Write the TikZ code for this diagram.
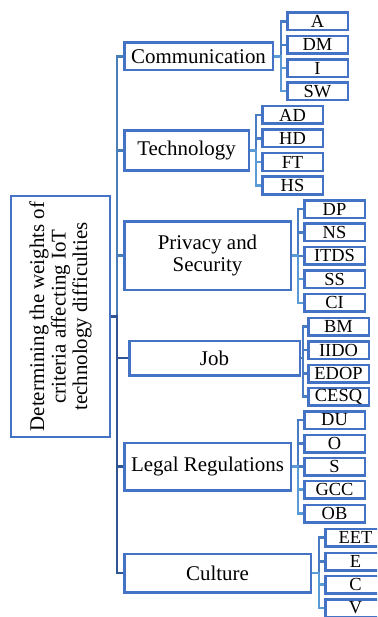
\documentclass[tikz,border=0pt]{standalone}
\usepackage{fontspec}
\setmainfont{Liberation Serif}
\definecolor{boxblue}{HTML}{4472C4}
\definecolor{trunkup}{HTML}{4A7EB8}
\definecolor{trunkdown}{HTML}{2F5597}
\definecolor{linkdark}{HTML}{4A7CC4}
\definecolor{linklight}{HTML}{5B9BD5}
\begin{document}
\begin{tikzpicture}[x=1bp, y=-1bp]
        \tikzstyle{box}  = [shape=rectangle, draw=boxblue, line width=2.5bp, fill=white,
                            inner sep=0pt, align=center, font=\fontsize{21}{22}\selectfont]
        \tikzstyle{leaf} = [box, minimum width=60.5bp, minimum height=17.5bp,
                            font=\fontsize{18.5}{19}\selectfont]
        \tikzstyle{up}   = [draw=trunkup, line width=2.2bp]
        \tikzstyle{down} = [draw=trunkdown, line width=2.7bp]
        \tikzstyle{ldark}  = [draw=linkdark, line width=2.2bp]
        \tikzstyle{llight} = [draw=linklight, line width=2.2bp]

        \useasboundingbox (0, 0) rectangle (377, 617);
        \clip (0, 0) rectangle (377, 617);

        % goal
        \node[box, minimum width=98.5bp, minimum height=240.5bp] (root) at (60.5, 316.5) {};
        \node[rotate=90, align=center, inner sep=0pt, font=\fontsize{21}{21.5}\selectfont]
            (goal) at (root.center) {Determining the weights of\\criteria affecting IoT\\technology difficulties};

        % criteria
        \node[box, minimum width=148.5bp, minimum height=27.5bp] (comm)  at (198.5,  56.5) {Communication};
        \node[box, minimum width=124.5bp, minimum height=39.5bp] (tech)  at (186.5, 150.5) {Technology};
        \node[box, minimum width=166.5bp, minimum height=68.5bp] (priv)  at (207.5, 255.5) {Privacy and\\Security};
        \node[box, minimum width=170.5bp, minimum height=34.5bp] (job)   at (214.5, 358.0) {Job};
        \node[box, minimum width=166.5bp, minimum height=47.5bp] (legal) at (207.5, 466.5) {Legal Regulations};
        \node[box, minimum width=186.5bp, minimum height=38.5bp] (cult)  at (217.5, 573.0) {Culture};

        \draw[up]   (root.east) -- ++(6, 0) |- (comm.west);
        \draw[up]   (root.east) -- ++(6, 0) |- (tech.west);
        \draw[up]   (root.east) -- ++(6, 0) |- (priv.west);
        \draw[down] (root.east) -- ++(6, 0) |- (job.west);
        \draw[down] (root.east) -- ++(6, 0) |- (legal.west);
        \draw[down] (root.east) -- ++(6, 0) |- (cult.west);

        % sub-criteria
        \node[leaf] (a)    at (317.5,  21.5) {A};
        \node[leaf] (dm)   at (317.5,  44.8) {DM};
        \node[leaf] (i)    at (317.5,  68.1) {I};
        \node[leaf] (sw)   at (317.5,  91.4) {SW};

            \draw[ldark]  (a.west)  -- ++(-5, 0) |- (comm.east);
            \draw[ldark]  (dm.west) -- ++(-5, 0) |- (comm.east);
            \draw[llight] (i.west)  -- ++(-5, 0) |- (comm.east);
            \draw[llight] (sw.west) -- ++(-5, 0) |- (comm.east);

        \node[leaf] (ad)   at (292.5, 115.0) {AD};
        \node[leaf] (hd)   at (292.5, 138.5) {HD};
        \node[leaf] (ft)   at (292.5, 162.0) {FT};
        \node[leaf] (hs)   at (292.5, 185.5) {HS};

            \draw[ldark]  (ad.west) -- ++(-5, 0) |- (tech.east);
            \draw[ldark]  (hd.west) -- ++(-5, 0) |- (tech.east);
            \draw[llight] (ft.west) -- ++(-5, 0) |- (tech.east);
            \draw[llight] (hs.west) -- ++(-5, 0) |- (tech.east);

        \node[leaf] (dp)   at (334.5, 209.0) {DP};
        \node[leaf] (ns)   at (334.5, 232.4) {NS};
        \node[leaf] (itds) at (334.5, 255.8) {ITDS};
        \node[leaf] (ss)   at (334.5, 279.2) {SS};
        \node[leaf] (ci)   at (334.5, 302.6) {CI};

            \draw[ldark]  (dp.west)   -- ++(-5, 0) |- (priv.east);
            \draw[ldark]  (ns.west)   -- ++(-5, 0) |- (priv.east);
            \draw[ldark]  (itds.west) -- ++(-5, 0) |- (priv.east);
            \draw[llight] (ss.west)   -- ++(-5, 0) |- (priv.east);
            \draw[llight] (ci.west)   -- ++(-5, 0) |- (priv.east);

        \node[leaf] (bm)   at (338.5, 326.5) {BM};
        \node[leaf] (iido) at (338.5, 350.0) {IIDO};
        \node[leaf] (edop) at (338.5, 373.5) {EDOP};
        \node[leaf] (cesq) at (338.5, 396.5) {CESQ};

            \draw[ldark]  (bm.west)   -- ++(-4, 0) |- (job.east);
            \draw[ldark]  (iido.west) -- ++(-4, 0) |- (job.east);
            \draw[ldark]  (edop.west) -- ++(-4, 0) |- (job.east);
            \draw[ldark]  (cesq.west) -- ++(-4, 0) |- (job.east);

        \node[leaf] (du)   at (334.5, 420.0) {DU};
        \node[leaf] (o)    at (334.5, 443.5) {O};
        \node[leaf] (s)    at (334.5, 466.5) {S};
        \node[leaf] (gcc)  at (334.5, 489.5) {GCC};
        \node[leaf] (ob)   at (334.5, 513.5) {OB};

            \draw[ldark]  (du.west)  -- ++(-5, 0) |- (legal.east);
            \draw[ldark]  (o.west)   -- ++(-5, 0) |- (legal.east);
            \draw[ldark]  (s.west)   -- ++(-5, 0) |- (legal.east);
            \draw[llight] (gcc.west) -- ++(-5, 0) |- (legal.east);
            \draw[llight] (ob.west)  -- ++(-5, 0) |- (legal.east);

        \node[leaf] (eet)  at (355.5, 537.5) {EET};
        \node[leaf] (e)    at (355.5, 561.5) {E};
        \node[leaf] (c)    at (355.5, 584.5) {C};
        \node[leaf] (v)    at (355.5, 608.0) {V};

            \draw[ldark]  (eet.west) -- ++(-5, 0) |- (cult.east);
            \draw[ldark]  (e.west)   -- ++(-5, 0) |- (cult.east);
            \draw[llight] (c.west)   -- ++(-5, 0) |- (cult.east);
            \draw[llight] (v.west)   -- ++(-5, 0) |- (cult.east);

\end{tikzpicture}
\end{document}
